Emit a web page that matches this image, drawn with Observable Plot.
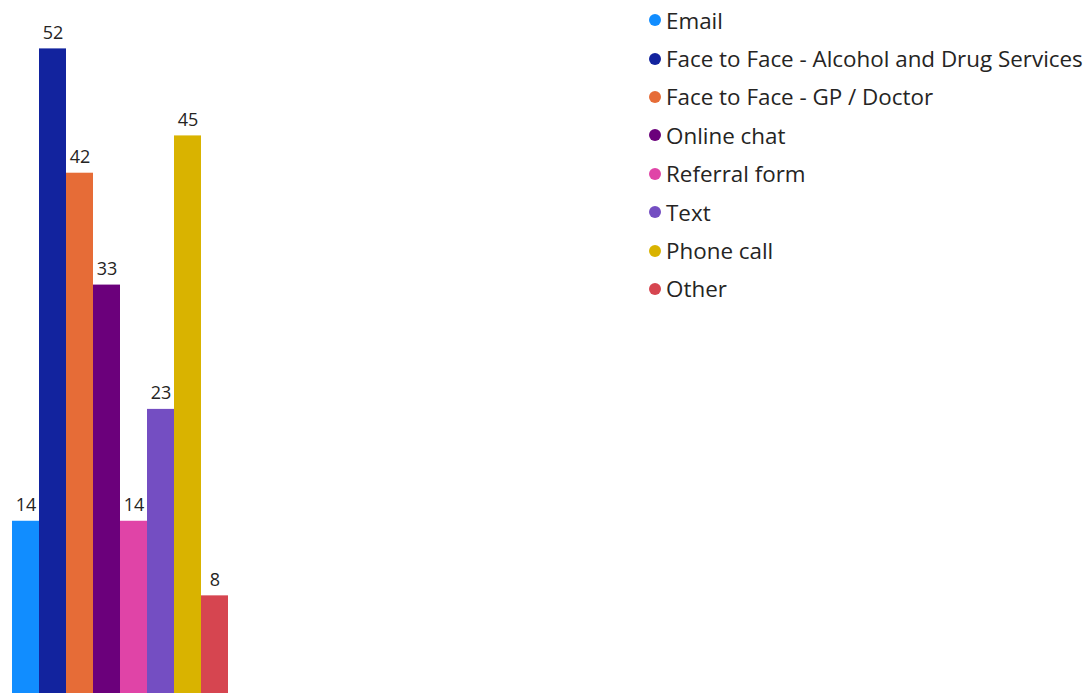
<!DOCTYPE html>
<html>
<head>
<meta charset="utf-8">
<script src="https://cdn.jsdelivr.net/npm/d3@7"></script>
<script src="https://cdn.jsdelivr.net/npm/@observablehq/plot@0.6"></script>
<style>
  html, body { margin: 0; padding: 0; background: #fff; }
  #wrap { position: relative; width: 1089px; height: 693px; overflow: hidden; font-family: "Segoe UI", "Open Sans", sans-serif; }
  #legend { position: absolute; left: 649px; top: 1px; }
  .row { display: flex; align-items: center; height: 38.4px; font-size: 22.4px; color: #252423; white-space: nowrap; }
  .sw { width: 12px; height: 12px; border-radius: 50%; margin-right: 5px; flex: none; }
</style>
</head>
<body>
<div id="wrap"><div id="chart"></div><div id="legend"></div></div>
<script>
const categories = ["Email", "Face to Face - Alcohol and Drug Services", "Face to Face - GP / Doctor", "Online chat", "Referral form", "Text", "Phone call", "Other"];
const values = [14, 52, 42, 33, 14, 23, 45, 8];
const colors = ["#118DFF", "#12239E", "#E66C37", "#6B007B", "#E044A7", "#744EC2", "#D9B300", "#D64550"];

const data = categories.map((c, i) => ({category: c, value: values[i]}));

const chart = Plot.plot({
  width: 1089,
  height: 693,
  marginTop: 0, marginRight: 0, marginBottom: 0, marginLeft: 0,
  style: {fontFamily: "'Segoe UI', 'Open Sans', sans-serif", background: "transparent"},
  x: {type: "band", domain: categories, range: [10, 229], padding: 0, axis: null},
  y: {domain: [0, 52], range: [694.8, 48.4], axis: null},
  color: {domain: categories, range: colors},
  marks: [
    Plot.barY(data, {x: "category", y: "value", fill: "category", insetLeft: 0, insetRight: 0}),
    Plot.text(data, {x: "category", y: "value", text: d => String(d.value), dy: -16, fontSize: 18, fill: "#252423"})
  ]
});
document.getElementById("chart").appendChild(chart);

const legend = d3.select("#legend");
categories.forEach((c, i) => {
  const row = legend.append("div").attr("class", "row");
  row.append("span").attr("class", "sw").style("background", colors[i]);
  row.append("span").text(c);
});
</script>
</body>
</html>
